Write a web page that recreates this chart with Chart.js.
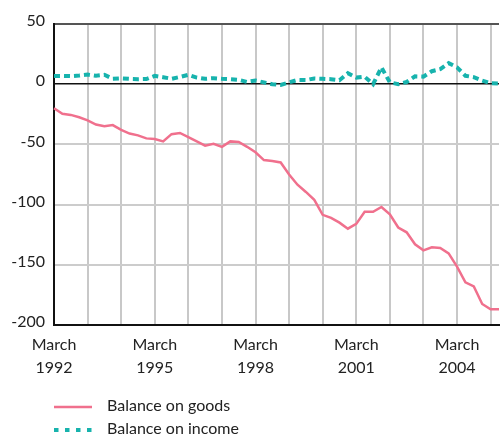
<!DOCTYPE html>
<html>
<head>
<meta charset="utf-8">
<script src="https://cdn.jsdelivr.net/npm/chart.js@4/dist/chart.umd.min.js"></script>
<style>
  html, body { margin: 0; padding: 0; background: #fff; overflow: hidden; }
  #wrap { width: 504px; height: 438px; overflow: hidden; position: relative; }
  canvas { display: block; }
</style>
</head>
<body>
<div id="wrap"><canvas id="c" width="508" height="438"></canvas></div>
<script>
// Quarterly categories, March 1992 to June 2005
const quarters = [
  'Mar 1992','Jun 1992','Sep 1992','Dec 1992',
  'Mar 1993','Jun 1993','Sep 1993','Dec 1993',
  'Mar 1994','Jun 1994','Sep 1994','Dec 1994',
  'Mar 1995','Jun 1995','Sep 1995','Dec 1995',
  'Mar 1996','Jun 1996','Sep 1996','Dec 1996',
  'Mar 1997','Jun 1997','Sep 1997','Dec 1997',
  'Mar 1998','Jun 1998','Sep 1998','Dec 1998',
  'Mar 1999','Jun 1999','Sep 1999','Dec 1999',
  'Mar 2000','Jun 2000','Sep 2000','Dec 2000',
  'Mar 2001','Jun 2001','Sep 2001','Dec 2001',
  'Mar 2002','Jun 2002','Sep 2002','Dec 2002',
  'Mar 2003','Jun 2003','Sep 2003','Dec 2003',
  'Mar 2004','Jun 2004','Sep 2004','Dec 2004',
  'Mar 2005','Jun 2005'
];

const balanceOnGoods = [
  -20, -24.5, -25.5, -27.5,
  -30, -33.5, -35, -34,
  -38, -41, -42.5, -45,
  -45.5, -47.5, -41.5, -40.5,
  -44, -47.5, -51, -49.5,
  -52, -47.5, -48, -52,
  -56.5, -63, -63.8, -65,
  -75, -83.5, -89.5, -96,
  -108.5, -111, -115, -120,
  -116, -106, -106, -102,
  -108, -119, -123, -133,
  -138, -135.5, -136, -140.5,
  -151.5, -164.5, -168, -182.5,
  -187, -187
];

const balanceOnIncome = [
  6.9, 6.9, 6.7, 7.2,
  8, 7, 7.8, 4.5,
  4.8, 4.4, 4.2, 4.3,
  6.9, 5.8, 4.5, 6,
  7.8, 5.5, 4.5, 5,
  4.5, 4.2, 3.6, 1.9,
  3, 1.5, 0, -0.6,
  1.5, 3.5, 3.4, 4.8,
  4.5, 4.2, 3.3, 9.1,
  5.5, 6.2, 0, 14,
  1.5, 0, 1.8, 6.5,
  6.3, 10.8, 12.5, 17.5,
  14, 7, 5.8, 3,
  0.8, 0.5
];

const seriesNames = ['Balance on goods', 'Balance on income'];
const yTicks = [50, 0, -50, -100, -150, -200];

const PINK = '#f0708d';
const TEAL = '#17b3ad';
const FONT = 'Lato, "Open Sans", sans-serif';

const legendPlugin = {
  id: 'customLegend',
  afterDraw(chart) {
    const ctx = chart.ctx;
    const area = chart.chartArea;
    const x0 = area.left;
    const rows = [area.bottom + 82, area.bottom + 105];
    ctx.save();
    chart.data.datasets.forEach((ds, i) => {
      const y = rows[i];
      ctx.beginPath();
      ctx.strokeStyle = ds.borderColor;
      ctx.lineWidth = ds.borderWidth;
      ctx.lineCap = 'butt';
      ctx.setLineDash(i === 1 ? [4.5, 6.5] : []);
      ctx.moveTo(x0, y);
      ctx.lineTo(x0 + 38, y);
      ctx.stroke();
      ctx.setLineDash([]);
      ctx.fillStyle = '#222';
      ctx.font = '16px ' + FONT;
      ctx.textBaseline = 'middle';
      ctx.textAlign = 'left';
      ctx.fillText(ds.label, x0 + 53, y - 1);
    });
    ctx.restore();
  }
};

new Chart(document.getElementById('c'), {
  type: 'line',
  data: {
    labels: quarters,
    datasets: [
      {
        label: seriesNames[0],
        data: balanceOnGoods,
        borderColor: PINK,
        backgroundColor: PINK,
        borderWidth: 2.5,
        pointRadius: 0,
        tension: 0,
        fill: false
      },
      {
        label: seriesNames[1],
        data: balanceOnIncome,
        borderColor: TEAL,
        backgroundColor: TEAL,
        borderWidth: 4,
        borderDash: [6, 4],
        borderCapStyle: 'butt',
        pointRadius: 0,
        tension: 0,
        fill: false
      }
    ]
  },
  options: {
    responsive: false,
    animation: false,
    devicePixelRatio: 1,
    layout: { padding: { top: 24, left: 0, right: 0, bottom: 53 } },
    plugins: {
      legend: { display: false },
      tooltip: { enabled: false }
    },
    scales: {
      x: {
        type: 'category',
        offset: false,
        afterFit(scale) { scale.height = 60; },
        border: { display: true, color: '#111', width: 2 },
        grid: {
          drawTicks: false,
          color(ctx) {
            const i = ctx.index;
            return (i > 0 && i % 4 === 0) ? '#c8c8c8' : 'rgba(0,0,0,0)';
          },
          lineWidth: 2
        },
        ticks: {
          autoSkip: false,
          maxRotation: 0,
          minRotation: 0,
          padding: 9,
          color: '#222',
          font: { family: FONT, size: 16, lineHeight: 1.4 },
          callback(value, index) {
            const lab = quarters[index];
            const parts = lab.split(' ');
            const yr = parseInt(parts[1], 10);
            if (parts[0] === 'Mar' && (yr - 1992) % 3 === 0) {
              return ['March', String(yr)];
            }
            return '';
          }
        }
      },
      y: {
        min: -200,
        max: 50,
        afterFit(scale) { scale.width = 54; },
        afterBuildTicks(scale) {
          scale.ticks = yTicks.slice().reverse().map(v => ({ value: v }));
        },
        border: { display: true, color: '#111', width: 2 },
        grid: {
          drawTicks: false,
          color(ctx) {
            const v = ctx.tick && ctx.tick.value;
            if (v === 0) return '#111';
            if (v === 50) return '#555';
            if (v === -200) return 'rgba(0,0,0,0)';
            return '#cccccc';
          },
          lineWidth(ctx) {
            const v = ctx.tick && ctx.tick.value;
            return v === 0 ? 1.5 : 2;
          }
        },
        ticks: {
          padding: 9,
          labelOffset: -3,
          color: '#222',
          font: { family: FONT, size: 16 },
          callback(value) { return String(value); }
        }
      }
    }
  },
  plugins: [legendPlugin]
});
</script>
</body>
</html>
